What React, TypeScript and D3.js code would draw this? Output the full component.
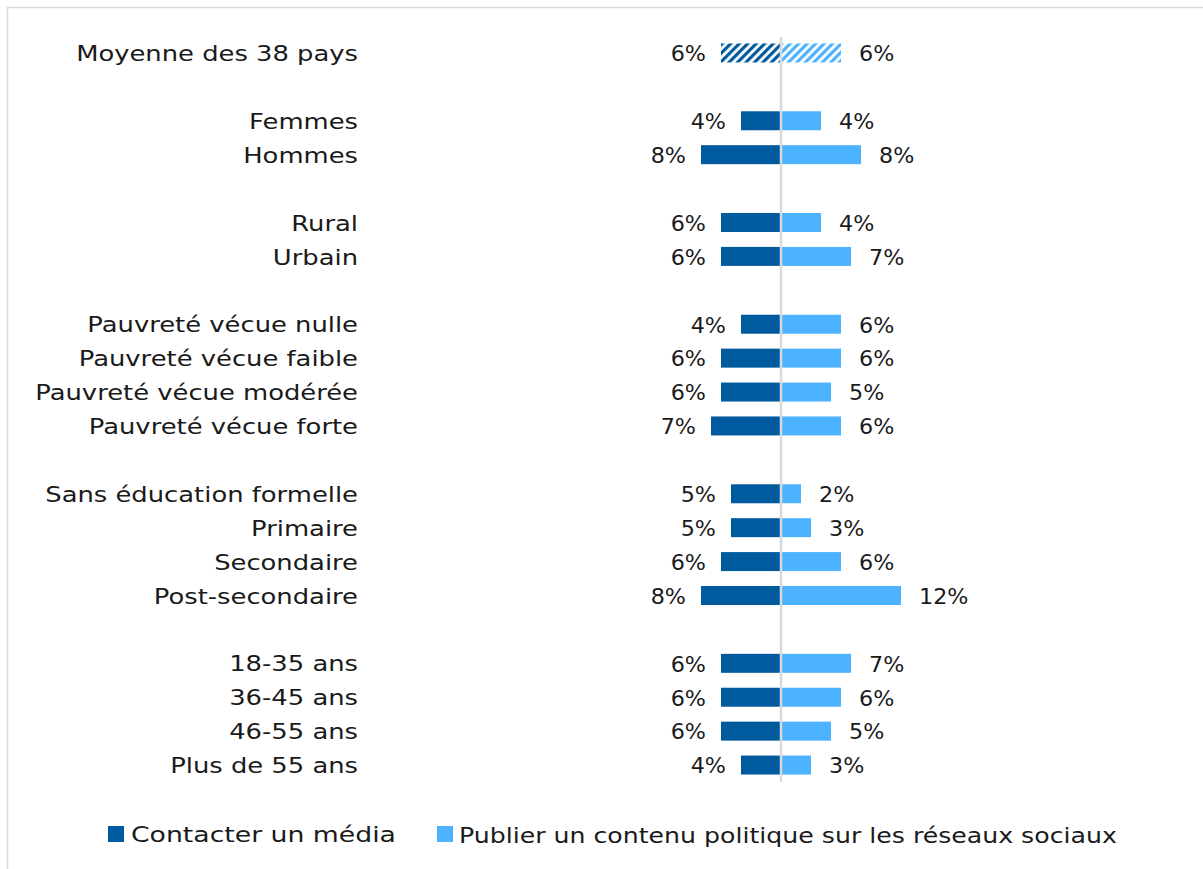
import React from "react";
import * as d3 from "d3";

const categories = [
  "Moyenne des 38 pays",
  "",
  "Femmes",
  "Hommes",
  "",
  "Rural",
  "Urbain",
  "",
  "Pauvreté vécue nulle",
  "Pauvreté vécue faible",
  "Pauvreté vécue modérée",
  "Pauvreté vécue forte",
  "",
  "Sans éducation formelle",
  "Primaire",
  "Secondaire",
  "Post-secondaire",
  "",
  "18-35 ans",
  "36-45 ans",
  "46-55 ans",
  "Plus de 55 ans",
];
const contacterMedia: (number | null)[] = [6, null, 4, 8, null, 6, 6, null, 4, 6, 6, 7, null, 5, 5, 6, 8, null, 6, 6, 6, 4];
const publierContenu: (number | null)[] = [6, null, 4, 8, null, 4, 7, null, 6, 6, 5, 6, null, 2, 3, 6, 12, null, 7, 6, 5, 3];
const seriesNames = ["Contacter un média", "Publier un contenu politique sur les réseaux sociaux"];

const DARK = "#005A9E";
const LIGHT = "#4DB2FF";
const FONT = "'DejaVu Sans', sans-serif";
const INK = "#1a1a1a";

function WText(props: { x: number; y: number; sx: number; anchor: string; fs: number; children: React.ReactNode }) {
  return (
    <text
      transform={`translate(${props.x},${props.y}) scale(${props.sx},1)`}
      textAnchor={props.anchor as any}
      dominantBaseline="central"
      fontSize={props.fs}
      fill={INK}
    >
      {props.children}
    </text>
  );
}

export default function App() {
  const W = 1203, H = 869;
  const cx = 781;
  const x = d3.scaleLinear().domain([0, 1]).range([0, 10]);
  const y = d3.scaleBand<number>()
    .domain(d3.range(categories.length))
    .range([36, 782])
    .paddingInner(0.44)
    .paddingOuter(0.22);
  const bw = y.bandwidth();
  const fs = 21;

  return (
    <svg width={W} height={H} style={{ position: "absolute", left: 0, top: 0, background: "#fff" }} fontFamily={FONT}>
      <defs>
        <pattern id="hatchDark" patternUnits="userSpaceOnUse" width="6" height="6" patternTransform="rotate(45)">
          <rect width="6" height="6" fill="#fff" />
          <rect width="3.2" height="6" fill={DARK} />
        </pattern>
        <pattern id="hatchLight" patternUnits="userSpaceOnUse" width="6" height="6" patternTransform="rotate(45)">
          <rect width="6" height="6" fill="#fff" />
          <rect width="3.2" height="6" fill={LIGHT} />
        </pattern>
      </defs>
      <rect x={7.5} y={7.5} width={W} height={H} fill="none" stroke="#d9d9d9" strokeWidth={1.5} />
      {categories.map((c, i) => {
        if (!c) return null;
        const yc = (y(i) as number) + bw / 2 + 1;
        const a = contacterMedia[i] as number;
        const b = publierContenu[i] as number;
        const hatched = i === 0;
        return (
          <g key={i}>
            <WText x={358} y={yc} sx={1.23} anchor="end" fs={fs}>{c}</WText>
            <rect x={cx - x(a)} y={y(i)} width={x(a)} height={bw} fill={hatched ? "url(#hatchDark)" : DARK} />
            <rect x={cx} y={y(i)} width={x(b)} height={bw} fill={hatched ? "url(#hatchLight)" : LIGHT} />
            <WText x={cx - x(a) - 15} y={yc} sx={1.06} anchor="end" fs={fs}>{a}%</WText>
            <WText x={cx + x(b) + 18} y={yc} sx={1.06} anchor="start" fs={fs}>{b}%</WText>
          </g>
        );
      })}
      <line x1={cx} x2={cx} y1={37} y2={782} stroke="#d9d9d9" strokeWidth={2.5} />
      <g>
        <rect x={108} y={826} width={16} height={16} fill={DARK} />
        <WText x={131} y={835} sx={1.27} anchor="start" fs={fs}>{seriesNames[0]}</WText>
        <rect x={437} y={826} width={16} height={16} fill={LIGHT} />
        <WText x={459} y={835} sx={1.2} anchor="start" fs={fs}>{seriesNames[1]}</WText>
      </g>
    </svg>
  );
}
